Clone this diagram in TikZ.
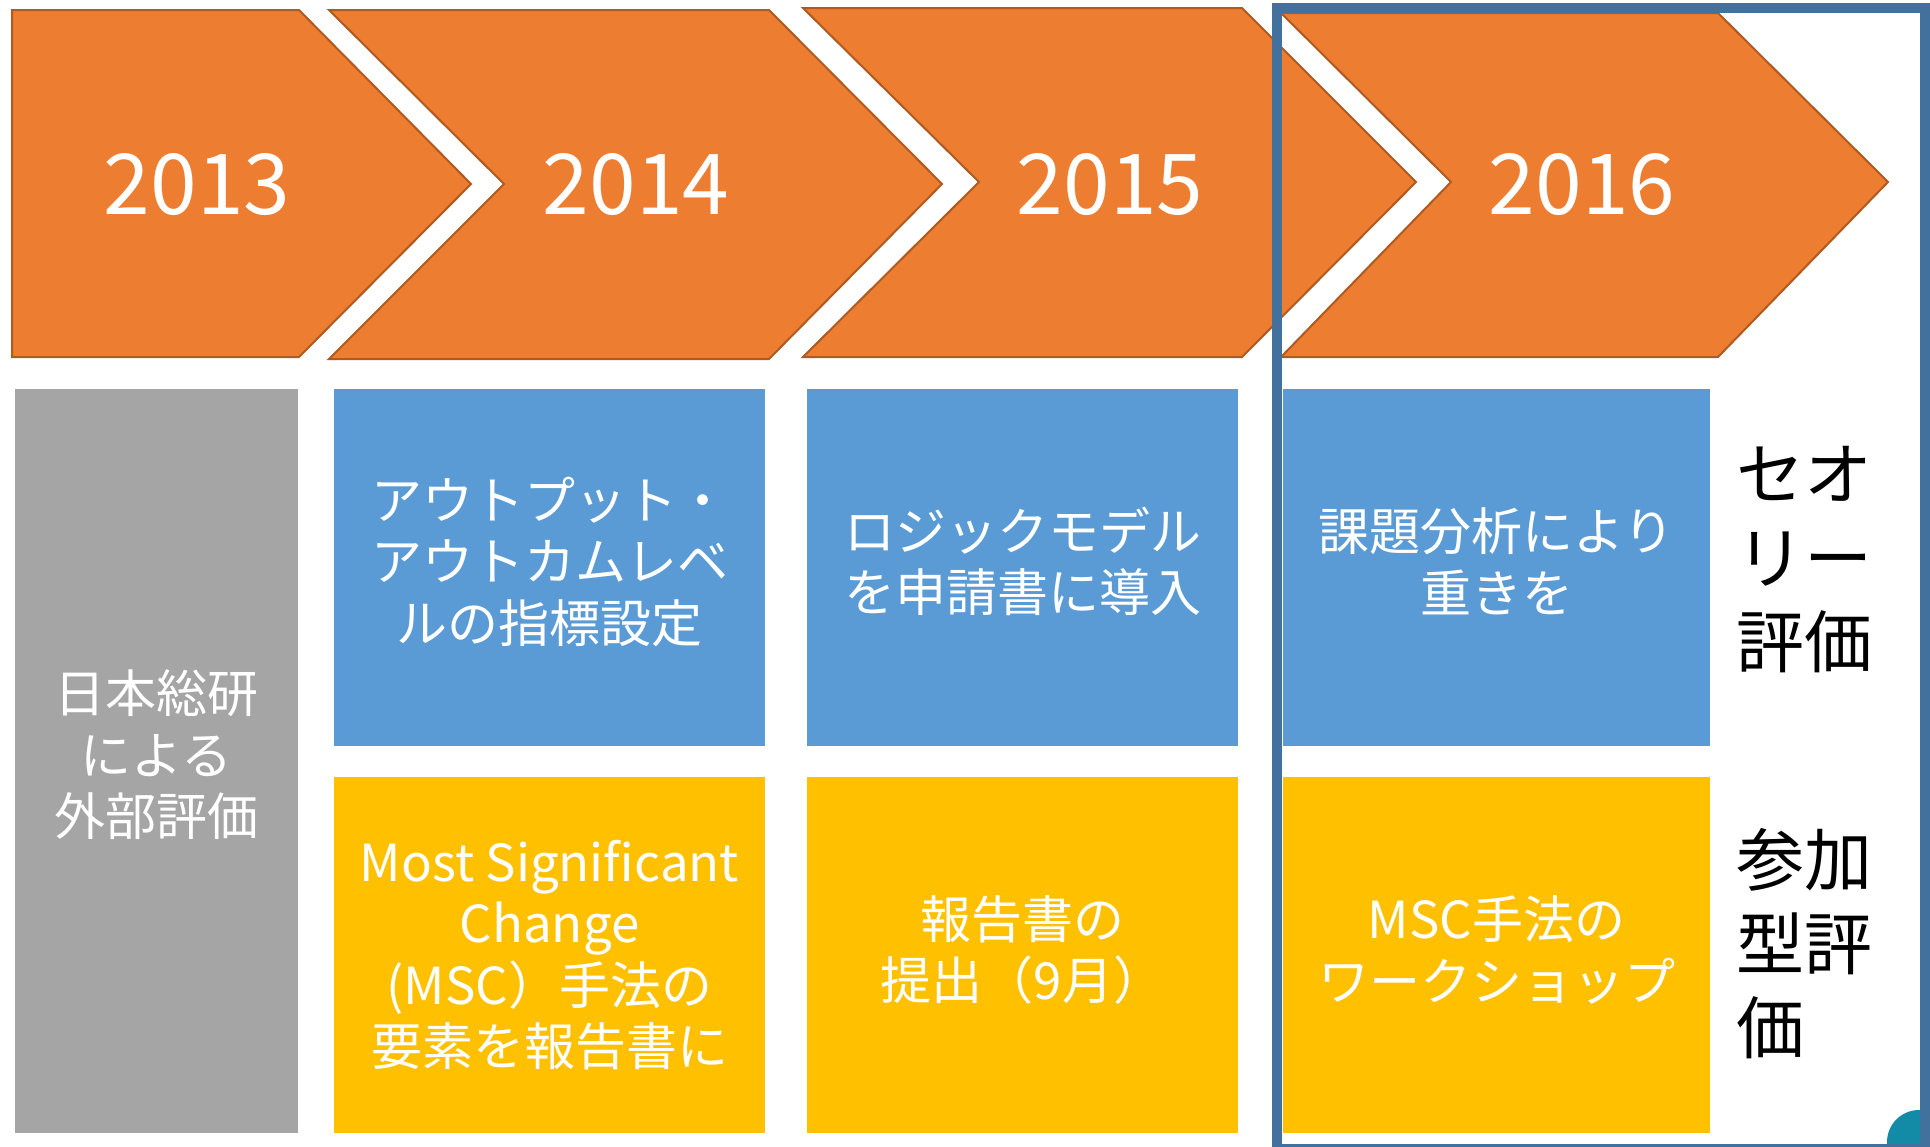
\documentclass[tikz,border=0pt]{standalone}
\usepackage{fontspec}
\setmainfont{Noto Sans CJK JP}
\definecolor{orng}{HTML}{ED7D31}
\definecolor{orngline}{HTML}{AE5A21}
\definecolor{blu}{HTML}{5B9BD5}
\definecolor{yel}{HTML}{FFC000}
\definecolor{gry}{HTML}{A5A5A5}
\definecolor{frm}{HTML}{41719C}
\definecolor{tealc}{HTML}{138AA6}
\begin{document}
\begin{tikzpicture}[x=0.5pt,y=-0.5pt,
  chev/.style={fill=orng,draw=orngline,line width=1pt,line join=miter},
  yearlbl/.style={text=white,font=\fontsize{42}{50}\selectfont,inner sep=0pt},
  cell/.style={inner sep=0pt},
  celltext/.style={inner sep=0pt,text=white,align=center,font=\fontsize{25.5}{30.75}\selectfont},
  narrowcell/.style={cell,minimum width=141.5pt},
  widecell/.style={cell,minimum width=215.5pt},
  toprow/.style={minimum height=178.5pt},
  botrow/.style={minimum height=178pt},
  sidelbl/.style={anchor=west,align=left,inner sep=0pt,text=black,font=\fontsize{34}{42}\selectfont}]
\useasboundingbox (0,0) rectangle (1930,1146);
\fill[white] (0,0) rectangle (1930,1146);
% chevrons
\draw[chev] (12,10) -- (299,10) -- (471,184) -- (299,357) -- (12,357) -- cycle;
\draw[chev] (329,10) -- (769,10) -- (942,184) -- (769,359) -- (329,359) -- (504,184) -- cycle;
\draw[chev] (803,8) -- (1242,8) -- (1416,182) -- (1242,357) -- (803,357) -- (979,182) -- cycle;
\draw[chev] (1281,13) -- (1718,13) -- (1888,182) -- (1718,357) -- (1281,357) -- (1451,182) -- cycle;
\node[yearlbl] (y13) at (197,185) {2013};
\node[yearlbl] (y14) at (636,185) {2014};
\node[yearlbl] (y15) at (1110,185) {2015};
\node[yearlbl] (y16) at (1582,185) {2016};
% cells
\node[narrowcell,fill=gry,minimum height=372pt] (g13) at (156.5,761) {};
\node[widecell,toprow,fill=blu] (b14) at (549.5,567.5) {};
\node[widecell,toprow,fill=blu] (b15) at (1022.5,567.5) {};
\node[cell,toprow,fill=blu,minimum width=213.5pt] (b16) at (1496.5,567.5) {};
\node[widecell,botrow,fill=yel] (o14) at (549.5,955) {};
\node[widecell,botrow,fill=yel] (o15) at (1022.5,955) {};
\node[cell,botrow,fill=yel,minimum width=213.5pt] (o16) at (1496.5,955) {};
% cell texts
\node[celltext,yshift=3pt] (tg13) at (g13.center) {日本総研\\による\\外部評価};
\node[celltext,yshift=3pt] (tb14) at (b14.center) {アウトプット・\\アウトカムレベ\\ルの指標設定};
\node[celltext,yshift=3pt] (tb15) at (b15.center) {ロジックモデル\\を申請書に導入};
\node[celltext,yshift=3pt] (tb16) at (b16.center) {課題分析により\\重きを};
\node[celltext] (to14) at (o14.center) {Most Significant\\Change\\(MSC）手法の\\要素を報告書に};
\node[celltext,yshift=2.5pt] (to15) at (o15.center) {報告書の\\提出（9月）};
\node[celltext,yshift=2.5pt] (to16) at (o16.center) {MSC手法の\\ワークショップ};
% side labels
\node[sidelbl] (theory) at (1736,560) {セオ\\リー\\評価};
\node[sidelbl] (partic) at (1736,944) {参加\\型評\\価};
% corner decoration
\fill[tealc] (1919,1142) circle (32);
% frame
\draw[frm,line width=5pt] (1277,8) rectangle (1925,1149);
\end{tikzpicture}
\end{document}
